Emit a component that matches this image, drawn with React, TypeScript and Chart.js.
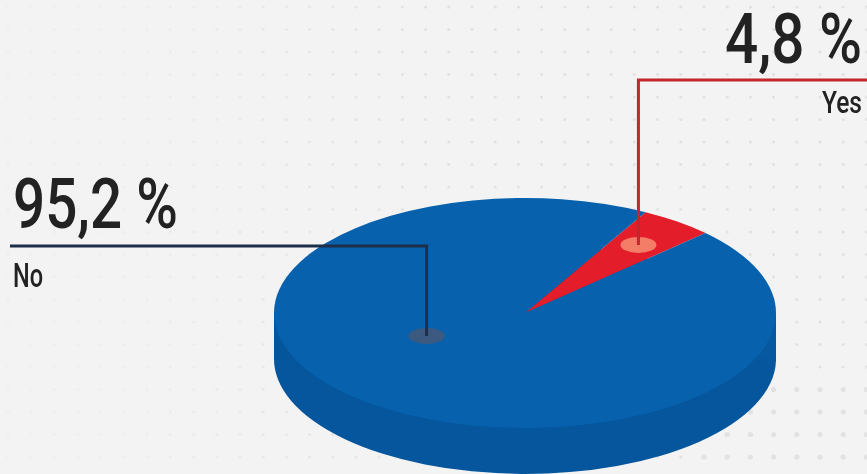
import React, { useEffect, useRef } from "react";
import { Chart, registerables } from "chart.js";

Chart.register(...registerables);

const categories = ["Yes", "No"];
const values = [4.8, 95.2];
const valueLabels = ["4,8 %", "95,2 %"];
const topColors = ["#e31e2a", "#0761ad"];
const sideColors = ["#b5161f", "#05569c"];
const markerColors = ["#f47d68", "#3c5a7f"];
const lineColors = ["#c1272d", "#1d2e48"];

const W = 867;
const H = 474;
const CX = 525;
const CY = 313;
const RX = 251;
const TILT = 0.458;
const DEPTH = 46;

function fitText(ctx: CanvasRenderingContext2D, text: string, x: number, y: number, size: number, width: number, align: "left" | "right", weight: string) {
  ctx.save();
  ctx.font = `${weight} ${size}px 'Roboto', 'Liberation Sans Narrow', sans-serif`;
  const m = ctx.measureText(text).width;
  const s = width / m;
  ctx.translate(x, y);
  ctx.scale(s, 1);
  ctx.textAlign = align;
  ctx.textBaseline = "alphabetic";
  ctx.fillStyle = "#222222";
  ctx.fillText(text, 0, 0);
  ctx.restore();
}

export default function App() {
  const ref = useRef<HTMLCanvasElement | null>(null);

  useEffect(() => {
    document.body.style.margin = "0";
    const canvas = ref.current;
    if (!canvas) return;

    const getT = (chart: any) => {
      const meta = chart.getDatasetMeta(0);
      const a = meta.data[0] as any;
      const r = a.outerRadius;
      const sx = RX / r;
      const sy = sx * TILT;
      return { r, sx, sy, cx: a.x, cy: a.y };
    };

    const plugin = {
      id: "pie3d",
      beforeDraw(chart: any) {
        const ctx = chart.ctx as CanvasRenderingContext2D;
        ctx.save();
        ctx.fillStyle = "#f3f3f3";
        ctx.fillRect(0, 0, W, H);
        for (let y = 7; y < H; y += 22.5) {
          for (let x = 8; x < W; x += 23.2) {
            const t = Math.min(1, Math.max(0, (x - 120) / 300));
            ctx.globalAlpha = 0.25 + 0.75 * t;
            ctx.fillStyle = "#e2e2e2";
            ctx.beginPath();
            ctx.arc(x, y, y > 380 && x > 700 ? 2.6 : 1.6, 0, Math.PI * 2);
            ctx.fill();
          }
        }
        ctx.restore();
      },
      beforeDatasetsDraw(chart: any) {
        const ctx = chart.ctx as CanvasRenderingContext2D;
        const { r, sx, sy, cx, cy } = getT(chart);
        const meta = chart.getDatasetMeta(0);
        ctx.save();
        ctx.translate(CX, CY);
        ctx.scale(sx, sy);
        ctx.translate(-cx, -cy);
        const dd = DEPTH / sy;
        meta.data.forEach((el: any, i: number) => {
          ctx.fillStyle = sideColors[i];
          ctx.beginPath();
          ctx.moveTo(el.x, el.y + dd);
          ctx.arc(el.x, el.y + dd, el.outerRadius, el.startAngle, el.endAngle);
          ctx.closePath();
          ctx.fill();
        });
        const g = ctx.createLinearGradient(cx - r, 0, cx + r, 0);
        g.addColorStop(0, "#05559b");
        g.addColorStop(0.5, sideColors[1]);
        g.addColorStop(1, "#0658a0");
        ctx.fillStyle = g;
        ctx.fillRect(cx - r, cy, 2 * r, dd);
      },
      afterDatasetsDraw(chart: any) {
        chart.ctx.restore();
      },
      afterDraw(chart: any) {
        const ctx = chart.ctx as CanvasRenderingContext2D;
        const { sx, sy } = getT(chart);
        const meta = chart.getDatasetMeta(0);
        const toScreen = (ang: number, frac: number, r: number) => ({
          x: CX + Math.cos(ang) * r * frac * sx,
          y: CY + Math.sin(ang) * r * frac * sy,
        });
        const yes = meta.data[0] as any;
        const no = meta.data[1] as any;
        const yesMid = (yes.startAngle + yes.endAngle) / 2;
        const pYes = toScreen(yesMid, 0.745, yes.outerRadius);
        const pNo = toScreen((153 * Math.PI) / 180, 0.44, no.outerRadius);

        const marker = (p: { x: number; y: number }, c: string) => {
          ctx.save();
          ctx.fillStyle = c;
          ctx.beginPath();
          ctx.ellipse(p.x, p.y, 18, 8, 0, 0, Math.PI * 2);
          ctx.fill();
          ctx.restore();
        };
        marker(pYes, markerColors[0]);
        marker(pNo, markerColors[1]);

        ctx.save();
        ctx.lineWidth = 3;
        ctx.lineJoin = "miter";
        ctx.strokeStyle = lineColors[0];
        ctx.beginPath();
        ctx.moveTo(pYes.x, pYes.y);
        ctx.lineTo(pYes.x, 80);
        ctx.lineTo(W, 80);
        ctx.stroke();
        ctx.strokeStyle = lineColors[1];
        ctx.beginPath();
        ctx.moveTo(pNo.x, pNo.y);
        ctx.lineTo(pNo.x, 246);
        ctx.lineTo(10, 246);
        ctx.stroke();
        ctx.restore();

        fitText(ctx, valueLabels[0], 862, 63, 70, 137, "right", "500");
        fitText(ctx, categories[0], 862, 113, 32, 40, "right", "500");
        fitText(ctx, valueLabels[1], 13, 228, 70, 165, "left", "500");
        fitText(ctx, categories[1], 13, 287, 34, 30, "left", "500");
      },
    };

    const chart = new Chart(canvas, {
      type: "pie",
      data: {
        labels: categories,
        datasets: [
          {
            data: values,
            backgroundColor: topColors,
            borderWidth: 0,
          },
        ],
      },
      options: {
        responsive: false,
        animation: false,
        rotation: 28.7,
        events: [],
        plugins: { legend: { display: false }, tooltip: { enabled: false } },
      },
      plugins: [plugin],
    });
    return () => chart.destroy();
  }, []);

  return (
    <div style={{ width: W, height: H }}>
      <canvas ref={ref} width={W} height={H} />
    </div>
  );
}
